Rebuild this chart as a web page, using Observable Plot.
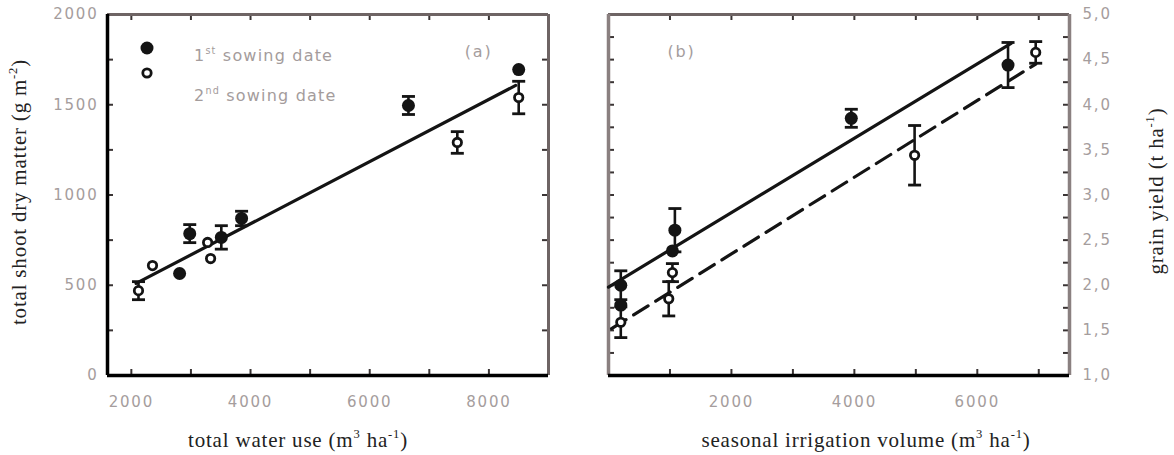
<!DOCTYPE html>
<html>
<head>
<meta charset="utf-8">
<script src="https://cdn.jsdelivr.net/npm/d3@7"></script>
<script src="https://cdn.jsdelivr.net/npm/@observablehq/plot@0.6"></script>
<style>
  html, body { margin: 0; padding: 0; background: #fff; }
  #wrap { position: relative; width: 1174px; height: 455px; overflow: hidden; }
  .panel { position: absolute; top: 0; }
  .title { position: absolute; font-family: "Liberation Serif", serif; font-size: 21px; color: #222; white-space: nowrap; letter-spacing: 0.8px; }
  .rot { transform: translate(-50%, -50%) rotate(-90deg); }
  .hx { transform: translate(-50%, -50%); }
  .legtxt { position: absolute; font-family: "DejaVu Sans", sans-serif; font-size: 16px; color: #a49c9c; white-space: nowrap; letter-spacing: 1.2px; transform: translateY(-50%); }
  sup { font-size: 0.6em; vertical-align: 0.65em; line-height: 0; }
</style>
</head>
<body>
<div id="wrap"></div>
<script>
// ---------- data ----------
// panel (a): total water use (m3/ha) vs total shoot dry matter (g/m2)
const leftX1 = [2810, 2980, 3510, 3850, 6650, 8500];
const leftY1 = [565, 786, 765, 870, 1496, 1695];
const leftE1 = [0, 50, 65, 40, 50, 0];
const leftX2 = [2120, 2355, 3280, 3330, 7470, 8500];
const leftY2 = [470, 609, 737, 648, 1291, 1540];
const leftE2 = [50, 0, 0, 0, 60, 90];
const leftFitX = [2080, 8450];
const leftFitY = [510, 1607];
// panel (b): seasonal irrigation volume (m3/ha) vs grain yield (t/ha)
const rightX1 = [200, 200, 1080, 1040, 3950, 6500];
const rightY1 = [2.0, 1.78, 2.61, 2.38, 3.85, 4.44];
const rightE1 = [0.16, 0, 0.24, 0, 0.1, 0.25];
const rightX2 = [200, 1040, 980, 4980, 6950];
const rightY2 = [1.59, 2.14, 1.85, 3.44, 4.58];
const rightE2 = [0.17, 0.1, 0.19, 0.33, 0.12];
const rightFit1X = [0, 6550];
const rightFit1Y = [1.98, 4.68];
const rightFit2X = [50, 6950];
const rightFit2Y = [1.52, 4.45];
// axes
const leftXDomain = [1600, 9000];
const leftYDomain = [0, 2000];
const leftXTickLabels = [2000, 4000, 6000, 8000];
const leftYTickLabels = [0, 500, 1000, 1500, 2000];
const leftXTicks = [2000, 3000, 4000, 5000, 6000, 7000, 8000];
const leftYTicks = [250, 500, 750, 1000, 1250, 1500, 1750];
const rightXDomain = [0, 7500];
const rightYDomain = [1, 5];
const rightXTickLabels = [2000, 4000, 6000];
const rightYTickLabels = [1, 1.5, 2, 2.5, 3, 3.5, 4, 4.5, 5];
const rightXTicks = [1000, 2000, 3000, 4000, 5000, 6000, 7000];
const rightYTicks = [1.25, 1.5, 1.75, 2, 2.25, 2.5, 2.75, 3, 3.25, 3.5, 3.75, 4, 4.25, 4.5, 4.75];
const legendLabels = ["1<sup>st</sup> sowing date", "2<sup>nd</sup> sowing date"];
const panelTags = ["(a)", "(b)"];

// ---------- helpers ----------
const zip = (xs, ys, es) => xs.map((x, i) => ({x, y: ys[i], e: es ? es[i] : 0}));
const cap = {draw(ctx, size) { const r = Math.sqrt(size / Math.PI); ctx.moveTo(-r, 0); ctx.lineTo(r, 0); }};
const ink = "#141414";
const tickGray = "#a59d9d";
const frameGray = "#6e6464";
const tickInk = "#3a3434";
const TICK = 6;

function pointMarks(s1, s2) {
  const err = [...s1, ...s2].filter(d => d.e > 0);
  return [
    Plot.ruleX(err, {x: "x", y1: d => d.y - d.e, y2: d => d.y + d.e, stroke: ink, strokeWidth: 2.6}),
    Plot.dot(err, {x: "x", y: d => d.y + d.e, r: 6.5, symbol: cap, stroke: ink, strokeWidth: 2.8, fill: "none"}),
    Plot.dot(err, {x: "x", y: d => d.y - d.e, r: 6.5, symbol: cap, stroke: ink, strokeWidth: 2.8, fill: "none"}),
    Plot.dot(s1, {x: "x", y: "y", r: 6.5, fill: ink, stroke: "none"}),
    Plot.dot(s2, {x: "x", y: "y", r: 4.2, fill: "white", stroke: ink, strokeWidth: 2.8})
  ];
}

// inward ticks on all four frame edges; fw/fh = frame width/height in px
function inwardTicks(xTicks, yTicks, fw, fh) {
  const o = {stroke: tickInk, strokeWidth: 2};
  return [
    Plot.tickX(xTicks, {x: d => d, insetTop: fh - TICK, ...o}),
    Plot.tickX(xTicks, {x: d => d, insetBottom: fh - TICK, ...o}),
    Plot.tickY(yTicks, {y: d => d, insetRight: fw - TICK, ...o}),
    Plot.tickY(yTicks, {y: d => d, insetLeft: fw - TICK, ...o})
  ];
}

const baseStyle = {fontFamily: "DejaVu Sans, sans-serif", fontSize: "15px", background: "transparent", overflow: "visible", letterSpacing: "1.8px"};

// ---------- panel (a) ----------
const A = {width: 580, height: 455, mt: 14, mb: 80, ml: 107, mr: 32};
const L1 = zip(leftX1, leftY1, leftE1), L2 = zip(leftX2, leftY2, leftE2);
const plotA = Plot.plot({
  width: A.width, height: A.height,
  marginTop: A.mt, marginBottom: A.mb, marginLeft: A.ml, marginRight: A.mr,
  style: baseStyle,
  x: {domain: leftXDomain},
  y: {domain: leftYDomain},
  marks: [
    Plot.axisX({anchor: "bottom", ticks: leftXTickLabels, tickSize: 0, tickPadding: 21, fill: tickGray, label: null, tickFormat: d => String(d), fontSize: 15}),
    Plot.axisY({anchor: "left", ticks: leftYTickLabels, tickSize: 0, tickPadding: 9, fill: tickGray, label: null, tickFormat: d => String(d), fontSize: 15}),
    ...inwardTicks(leftXTicks, leftYTicks, A.width - A.ml - A.mr, A.height - A.mt - A.mb),
    Plot.ruleY([leftYDomain[1]], {stroke: frameGray, strokeWidth: 3}),
    Plot.ruleX([leftXDomain[1]], {stroke: frameGray, strokeWidth: 3}),
    Plot.ruleX([leftXDomain[0]], {stroke: "black", strokeWidth: 3.5}),
    Plot.ruleY([leftYDomain[0]], {stroke: "black", strokeWidth: 3.5}),
    Plot.line(zip(leftFitX, leftFitY), {x: "x", y: "y", stroke: ink, strokeWidth: 3.2}),
    ...pointMarks(L1, L2),
    Plot.text([panelTags[0]], {frameAnchor: "top-right", dx: -56, dy: 31, fill: tickGray, fontSize: 16, fontFamily: "DejaVu Sans"})
  ]
});
plotA.classList.add("panel");
plotA.style.left = "0px";

// ---------- panel (b) ----------
const B = {width: 594, height: 455, mt: 14, mb: 80, ml: 28, mr: 105};
const R1 = zip(rightX1, rightY1, rightE1), R2 = zip(rightX2, rightY2, rightE2);
const plotB = Plot.plot({
  width: B.width, height: B.height,
  marginTop: B.mt, marginBottom: B.mb, marginLeft: B.ml, marginRight: B.mr,
  style: baseStyle,
  x: {domain: rightXDomain},
  y: {domain: rightYDomain},
  marks: [
    Plot.axisX({anchor: "bottom", ticks: rightXTickLabels, tickSize: 0, tickPadding: 21, fill: tickGray, label: null, tickFormat: d => String(d), fontSize: 15}),
    Plot.axisY({anchor: "right", ticks: rightYTickLabels, tickSize: 0, tickPadding: 13, fill: tickGray, label: null, tickFormat: d => d.toFixed(1).replace(".", ","), fontSize: 15}),
    ...inwardTicks(rightXTicks, rightYTicks, B.width - B.ml - B.mr, B.height - B.mt - B.mb),
    Plot.ruleY([rightYDomain[1]], {stroke: frameGray, strokeWidth: 3}),
    Plot.ruleX([rightXDomain[1]], {stroke: "#8a8080", strokeWidth: 3.5}),
    Plot.ruleX([rightXDomain[0]], {stroke: "#8a8080", strokeWidth: 3.5}),
    Plot.ruleY([rightYDomain[0]], {stroke: "black", strokeWidth: 3.5}),
    Plot.line(zip(rightFit1X, rightFit1Y), {x: "x", y: "y", stroke: ink, strokeWidth: 3.2}),
    Plot.line(zip(rightFit2X, rightFit2Y), {x: "x", y: "y", stroke: ink, strokeWidth: 3.2, strokeDasharray: "17,9"}),
    ...pointMarks(R1, R2),
    Plot.text([panelTags[1]], {frameAnchor: "top-left", dx: 59, dy: 31, fill: tickGray, fontSize: 16, fontFamily: "DejaVu Sans"})
  ]
});
plotB.classList.add("panel");
plotB.style.left = "580px";

const wrap = document.getElementById("wrap");
wrap.appendChild(plotA);
wrap.appendChild(plotB);

// ---------- legend (HTML) ----------
function addHTML(html, cls, left, top) {
  const d = document.createElement("div");
  d.className = cls;
  d.style.left = left + "px";
  d.style.top = top + "px";
  d.innerHTML = html;
  wrap.appendChild(d);
}
const legSvg = document.createElementNS("http://www.w3.org/2000/svg", "svg");
legSvg.setAttribute("width", 30); legSvg.setAttribute("height", 50);
legSvg.style.position = "absolute"; legSvg.style.left = "132px"; legSvg.style.top = "34px";
legSvg.innerHTML = `<circle cx="15" cy="14" r="6.5" fill="${ink}"/><circle cx="15" cy="39" r="4.2" fill="white" stroke="${ink}" stroke-width="2.8"/>`;
wrap.appendChild(legSvg);
addHTML(legendLabels[0], "legtxt", 194, 55);
addHTML(legendLabels[1], "legtxt", 194, 95);

// ---------- axis titles (HTML) ----------
addHTML("total shoot dry matter (g m<sup>-2</sup>)", "title rot", 19, 192);
addHTML("total water use (m<sup>3</sup> ha<sup>-1</sup>)", "title hx", 298, 440);
addHTML("seasonal irrigation volume (m<sup>3</sup> ha<sup>-1</sup>)", "title hx", 866, 440);
addHTML("grain yield (t ha<sup>-1</sup>)", "title rot", 1156, 191);
</script>
</body>
</html>
